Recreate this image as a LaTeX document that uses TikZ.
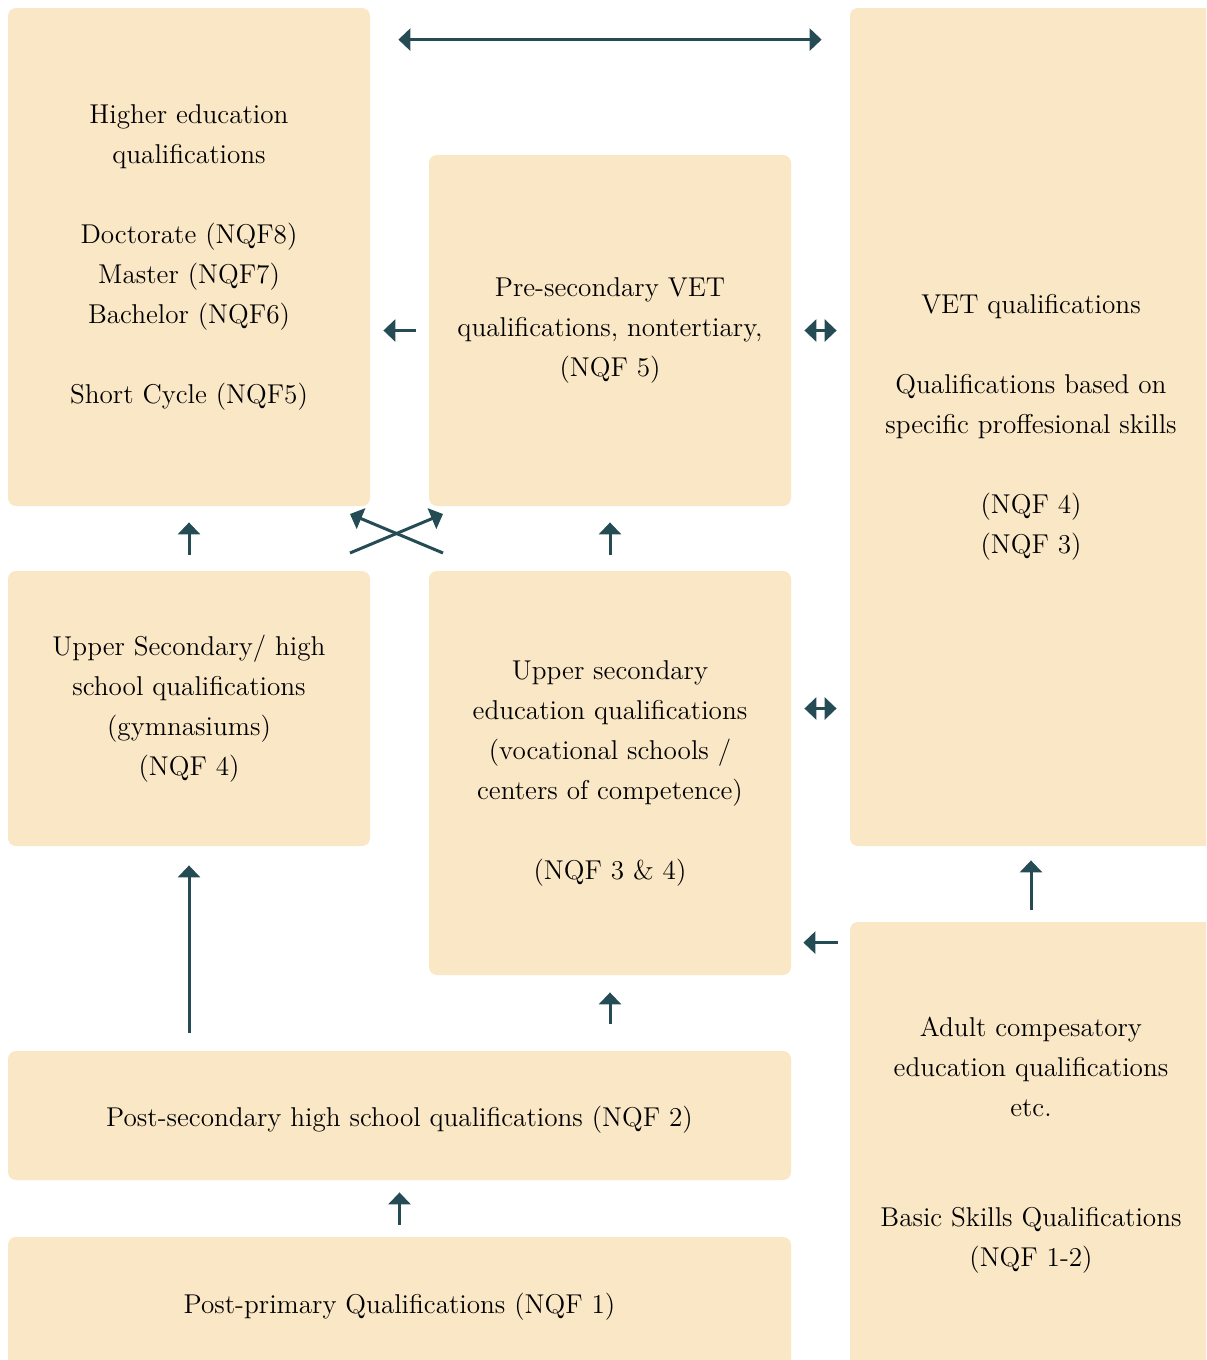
\documentclass[tikz,border=0pt]{standalone}
\usepackage{tikz}
\usetikzlibrary{arrows.meta,calc}
\definecolor{boxfill}{HTML}{FAE7C5}
\definecolor{arrowcol}{HTML}{254B55}
\tikzset{>={Triangle[length=6pt,width=11pt]}}
\tikzset{
  qbox/.style={fill=boxfill, rounded corners=4pt, inner sep=0pt, align=center,
    minimum width=181pt, font=\fontsize{13.6}{20}\selectfont,
    execute at begin node={\rule{0pt}{14.5pt}}},
  link/.style={draw=arrowcol, line width=1.5pt}
}

\begin{document}
\begin{tikzpicture}[x=0.5pt,y=-0.5pt]
	\clip (0,0) rectangle (1206,1360);
	% boxes
	\node[qbox, minimum height=249pt] (hi) at (189,257) {Higher education\\qualifications\\[20pt]Doctorate (NQF8)\\Master (NQF7)\\Bachelor (NQF6)\\[20pt]Short Cycle (NQF5)};
	\node[qbox, minimum height=175.5pt] (pre) at (610,330.5) {Pre-secondary VET\\qualifications, nontertiary,\\(NQF 5)};
	\node[qbox, minimum height=419pt] (vet) at (1031,427) {VET qualifications\\[20pt]Qualifications based on\\specific proffesional skills\\[20pt](NQF 4)\\(NQF 3)};
	\node[qbox, minimum height=137.5pt] (hs) at (189,708.5) {Upper Secondary/ high\\school qualifications\\(gymnasiums)\\(NQF 4)};
	\node[qbox, minimum height=202pt] (voc) at (610,773) {Upper secondary\\education qualifications\\(vocational schools /\\centers of competence)\\[20pt](NQF 3 \& 4)};
	\node[qbox, minimum height=223pt] (ad) at (1031,1145) {Adult compesatory\\education qualifications\\etc.\\[35pt]Basic Skills Qualifications\\(NQF 1-2)};
	\node[qbox, minimum width=391.5pt, minimum height=64.5pt] (ps) at (399.5,1115.5) {Post-secondary high school qualifications (NQF 2)};
	\node[qbox, minimum width=391.5pt, minimum height=65pt] (pp) at (399.5,1302) {Post-primary Qualifications (NQF 1)};
	% arrows
	\draw[link, <->, shorten <=14pt, shorten >=14pt] ([yshift=-16pt]hi.north east) -- ([yshift=-16pt]vet.north west);
	\draw[link, ->, shorten <=6.5pt, shorten >=6.5pt] (pre.west) -- (pre.west -| hi.east);
	\draw[link, <->, shorten <=6.5pt, shorten >=6.5pt] (pre.east) -- (pre.east -| vet.west);
	\draw[link, <->, shorten <=6.5pt, shorten >=6.5pt] (hs.east -| voc.east) -- (hs.east -| vet.west);
	\draw[link, ->, shorten <=8pt, shorten >=8pt] (hs.north) -- (hi.south);
	\draw[link, ->, shorten <=8pt, shorten >=8pt] (voc.north) -- (pre.south);
	\coordinate (mid) at ($(hi.south east)!.5!(voc.north west)$);
	\draw[link, ->] ($(mid)+(-49.5,14.5)$) -- ($(mid)+(43.5,-24.5)$);
	\draw[link, ->] ($(mid)+(43.5,14.5)$) -- ($(mid)+(-49.5,-24.5)$);
	\draw[link, ->, shorten <=9pt, shorten >=9.5pt] (hs.south |- ps.north) -- (hs.south);
	\draw[link, ->, shorten <=13.5pt, shorten >=8.5pt] (voc.south |- ps.north) -- (voc.south);
	\coordinate (adl) at ([yshift=-10.5pt]ad.north west);
	\draw[link, ->, shorten <=6pt, shorten >=6pt] (adl) -- (adl -| voc.east);
	\draw[link, ->, shorten <=6pt, shorten >=7pt] (ad.north) -- (vet.south);
	\draw[link, ->, shorten <=6pt, shorten >=6pt] (pp.north) -- (ps.south);
\end{tikzpicture}
\end{document}
